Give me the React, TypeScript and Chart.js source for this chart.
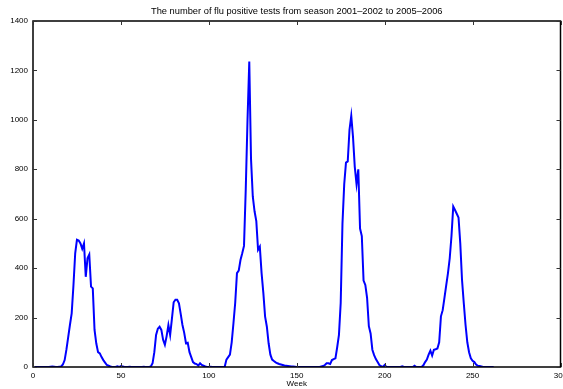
import React, { useEffect, useRef } from "react";
import { Chart, registerables } from "chart.js";

Chart.register(...registerables);

const TITLE = "The number of flu positive tests from season 2001–2002 to 2005–2006";
const X_LABEL = "Week";
const X_TICKS = [0, 50, 100, 150, 200, 250, 300];
const Y_TICKS = [0, 200, 400, 600, 800, 1000, 1200, 1400];

// weekly counts, week 1 .. 262
const SEASON1 = [ // weeks 1-52
  0, 0, 0, 0, 0, 0, 0, 0, 0, 1, 2, 1, 0, 0, 1, 2, 10, 28, 70, 120,
  170, 217, 330, 460, 515, 512, 500, 478, 500, 365, 440, 455, 325, 318, 150, 95, 60, 55, 40, 28,
  18, 8, 5, 2, 0, 0, 0, 3, 0, 4, 2, 0,
];
const SEASON2 = [ // weeks 53-104
  0, 0, 1, 0, 0, 0, 0, 0, 0, 0, 1, 0, 0, 0, 2, 15, 60, 130, 155, 163,
  150, 110, 90, 125, 170, 130, 195, 262, 272, 272, 258, 215, 170, 138, 96, 98, 60, 40, 20, 14,
  12, 6, 15, 8, 5, 2, 0, 0, 1, 0, 0, 0,
];
const SEASON3 = [ // weeks 105-156
  0, 0, 0, 0, 0, 30, 40, 50, 100, 177, 260, 380, 390, 433, 460, 490, 720, 1000, 1236, 840,
  690, 630, 590, 474, 487, 380, 300, 204, 163, 96, 50, 30, 24, 19, 15, 12, 10, 8, 6, 5,
  4, 3, 2, 2, 1, 0, 0, 0, 0, 0, 0, 0,
];
const SEASON4 = [ // weeks 157-208
  0, 0, 0, 0, 0, 0, 0, 2, 4, 8, 15, 15, 12, 28, 32, 35, 80, 130, 260, 580,
  740, 827, 832, 960, 1016, 930, 810, 740, 800, 560, 530, 350, 332, 280, 165, 136, 70, 48, 32, 20,
  8, 3, 0, 8, 0, 0, 0, 0, 0, 0, 0, 0,
];
const SEASON5 = [ // weeks 209-262
  0, 3, 0, 0, 0, 0, 0, 0, 5, 0, 0, 0, 0, 7, 20, 30, 50, 66, 46, 70,
  72, 75, 100, 205, 230, 280, 330, 380, 440, 530, 649, 635, 620, 605, 500, 352, 258, 170, 100, 60,
  35, 25, 20, 10, 5, 4, 2, 0, 0, 0, 0, 0, 0, 0,
];

const COUNTS = [...SEASON1, ...SEASON2, ...SEASON3, ...SEASON4, ...SEASON5];

const FONT = "'Liberation Sans', Arial, Helvetica, sans-serif";

export default function App() {
  const ref = useRef<HTMLCanvasElement>(null);

  useEffect(() => {
    document.body.style.margin = "0";
    const canvas = ref.current!;
    const points = COUNTS.map((v, i) => ({ x: i + 1, y: v }));

    const framePlugin = {
      id: "frame",
      afterDraw(chart: any) {
        const { ctx, chartArea: a, scales } = chart;
        ctx.save();
        ctx.strokeStyle = "#000";
        ctx.lineWidth = 1.5;
        ctx.strokeRect(a.left, a.top, a.right - a.left, a.bottom - a.top);
        ctx.lineWidth = 1;
        ctx.strokeStyle = "#333";
        const tl = 4;
        ctx.beginPath();
        for (const t of X_TICKS) {
          const x = Math.round(scales.x.getPixelForValue(t)) + 0.5;
          ctx.moveTo(x, a.bottom);
          ctx.lineTo(x, a.bottom - tl);
          ctx.moveTo(x, a.top);
          ctx.lineTo(x, a.top + tl);
        }
        for (const t of Y_TICKS) {
          const y = Math.round(scales.y.getPixelForValue(t)) + 0.5;
          ctx.moveTo(a.left, y);
          ctx.lineTo(a.left + tl, y);
          ctx.moveTo(a.right, y);
          ctx.lineTo(a.right - tl, y);
        }
        ctx.stroke();
        ctx.fillStyle = "#000";
        ctx.textAlign = "center";
        ctx.textBaseline = "middle";
        ctx.font = `9.3px ${FONT}`;
        ctx.fillText(TITLE, (a.left + a.right) / 2, 11.5);
        ctx.font = `8px ${FONT}`;
        ctx.fillText(X_LABEL, (a.left + a.right) / 2, 384);
        ctx.restore();
      },
    };

    const chart = new Chart(canvas, {
      type: "line",
      data: {
        datasets: [
          {
            data: points,
            borderColor: "#0000ff",
            borderWidth: 2,
            pointRadius: 0,
            tension: 0,
            fill: false,
          },
        ],
      },
      options: {
        animation: false,
        responsive: false,
        maintainAspectRatio: false,
        layout: { padding: { top: 21, right: 2.5, left: 0, bottom: 0 } },
        plugins: { legend: { display: false }, tooltip: { enabled: false }, title: { display: false } },
        scales: {
          x: {
            type: "linear",
            min: 0,
            max: 300,
            afterFit: (s: any) => {
              s.height = 22;
              s.paddingLeft = 0;
              s.paddingRight = 0;
            },
            afterBuildTicks: (s: any) => {
              s.ticks = X_TICKS.map((v) => ({ value: v }));
            },
            grid: { display: false, drawTicks: false },
            border: { display: false },
            ticks: {
              color: "#000",
              font: { size: 8, family: FONT },
              padding: 4,
              maxRotation: 0,
              autoSkip: false,
              callback: (v: any) => String(v),
            },
          },
          y: {
            type: "linear",
            min: 0,
            max: 1400,
            afterFit: (s: any) => {
              s.width = 33;
              s.paddingTop = 0;
              s.paddingBottom = 0;
            },
            afterBuildTicks: (s: any) => {
              s.ticks = Y_TICKS.map((v) => ({ value: v }));
            },
            grid: { display: false, drawTicks: false },
            border: { display: false },
            ticks: {
              color: "#000",
              font: { size: 8, family: FONT },
              padding: 5,
              autoSkip: false,
              callback: (v: any) => String(v),
            },
          },
        },
      },
      plugins: [framePlugin],
    });
    return () => chart.destroy();
  }, []);

  return (
    <div style={{ position: "absolute", left: 0, top: 0, width: 563, height: 389, background: "#fff" }}>
      <canvas ref={ref} width={563} height={389} style={{ display: "block" }} />
    </div>
  );
}
